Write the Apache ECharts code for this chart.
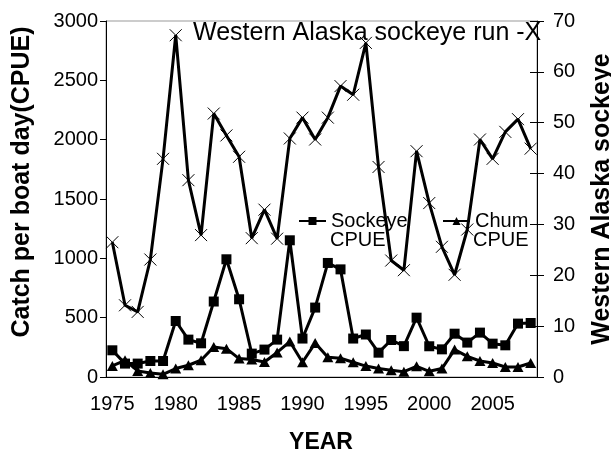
<!DOCTYPE html>
<html><head><meta charset="utf-8">
<script src="https://cdn.jsdelivr.net/npm/echarts@6/dist/echarts.min.js"></script>
<style>html,body{margin:0;padding:0;background:#fff}#c{width:611px;height:455px}</style>
</head><body><div id="c"></div>
<script>
const years = [];
for (let y = 1975; y <= 2008; y++) years.push(String(y));
const sockeyeCPUE = [225,113,113,135,135,472,315,284,636,992,655,197,231,315,1152,324,585,961,907,324,358,205,312,260,500,259,233,365,290,374,281,267,450,455];
const chumCPUE = [93,141,51,34,23,71,99,141,253,239,155,147,126,207,299,124,286,166,158,124,92,71,56,45,90,48,71,231,174,135,118,84,84,118];
const westernRun = [26.5,14.1,12.8,23.1,42.9,67.2,38.7,27.9,51.8,47.5,43.3,27.3,32.9,27.2,46.9,51.0,46.7,51.0,57.2,55.5,65.7,41.3,22.9,21.0,44.4,34.2,25.6,20.1,29.0,46.7,42.9,48.2,50.7,44.9];
const leftTicks = {min:0, max:3000, interval:500};
const rightTicks = {min:0, max:70, interval:10};

const FONT = "'Liberation Sans', Arial, sans-serif";
const chart = echarts.init(document.getElementById('c'), null, {renderer:'canvas'});
const xMark = 'path://M0 0L10 10M10 0L0 10';
chart.setOption({
  animation:false,
  backgroundColor:'#fff',
  grid:{left:106, right:74, top:21, bottom:78, show:true, borderColor:'#999', borderWidth:1},
  legend:[
    {data:['Sockeye CPUE'], left:293, top:206, itemWidth:27, itemHeight:10, itemGap:4,
     formatter:()=> 'Sockeye', textStyle:{fontFamily:FONT, fontSize:20, color:'#000'}},
    {data:['Chum CPUE'], left:437, top:206, itemWidth:27, itemHeight:10,
     formatter:()=> 'Chum', textStyle:{fontFamily:FONT, fontSize:20, color:'#000'}}
  ],
  xAxis:{type:'category', data:years, boundaryGap:true,
    axisLine:{lineStyle:{color:'#000', width:1}},
    axisTick:{interval:4, length:5, alignWithLabel:false, lineStyle:{color:'#000'}},
    axisLabel:{interval:4, margin:17, fontFamily:FONT, fontSize:20, color:'#000'},
    splitLine:{show:false}},
  yAxis:[
    {type:'value', position:'left', min:leftTicks.min, max:leftTicks.max, interval:leftTicks.interval,
     axisLine:{show:true, lineStyle:{color:'#000'}}, axisTick:{show:true, length:6, lineStyle:{color:'#000'}},
     axisLabel:{margin:8, fontFamily:FONT, fontSize:20, color:'#000', formatter:v=>String(v)}, splitLine:{show:false}},
    {type:'value', position:'right', min:rightTicks.min, max:rightTicks.max, interval:rightTicks.interval,
     axisLine:{show:true, lineStyle:{color:'#000'}}, axisTick:{show:true, length:7, lineStyle:{color:'#000'}},
     axisLabel:{margin:16, fontFamily:FONT, fontSize:20, color:'#000', formatter:v=>String(v)}, splitLine:{show:false}},
    {type:'value', position:'right', min:rightTicks.min, max:rightTicks.max, interval:rightTicks.interval,
     axisLine:{show:false}, axisTick:{show:true, inside:true, length:7, lineStyle:{color:'#000'}},
     axisLabel:{show:false}, splitLine:{show:false}}
  ],
  series:[
    {name:'Western Alaska sockeye run', type:'line', yAxisIndex:1, data:westernRun,
     lineStyle:{color:'#000', width:3}, symbol:xMark, symbolSize:12, showAllSymbol:true,
     itemStyle:{color:'none', borderColor:'#000', borderWidth:1}, z:2},
    {name:'Chum CPUE', type:'line', yAxisIndex:0, data:chumCPUE,
     lineStyle:{color:'#000', width:3}, symbol:'triangle', symbolSize:[11,10], showAllSymbol:true,
     itemStyle:{color:'#000'}, z:3},
    {name:'Sockeye CPUE', type:'line', yAxisIndex:0, data:sockeyeCPUE,
     lineStyle:{color:'#000', width:3}, symbol:'rect', symbolSize:10, showAllSymbol:true,
     itemStyle:{color:'#000'}, z:4}
  ],
  graphic:[
    {type:'text', left:193, top:21, style:{text:'Western Alaska sockeye run -X', fontFamily:FONT, fontSize:25, fill:'#000'}},
    {type:'text', left:330, top:230, style:{text:'CPUE', fontFamily:FONT, fontSize:20, fill:'#000'}},
    {type:'text', left:473, top:230, style:{text:'CPUE', fontFamily:FONT, fontSize:20, fill:'#000'}},
    {type:'text', x:321, y:443, style:{text:'YEAR', fontFamily:FONT, fontSize:23, fontWeight:'bold', fill:'#000', align:'center', verticalAlign:'middle'}},
    {type:'text', x:22, y:182, rotation:Math.PI/2, style:{text:'Catch per boat day(CPUE)', fontFamily:FONT, fontSize:25, fontWeight:'bold', fill:'#000', align:'center', verticalAlign:'middle'}},
    {type:'text', x:602, y:199, rotation:Math.PI/2, style:{text:'Western Alaska sockeye', fontFamily:FONT, fontSize:25, fontWeight:'bold', fill:'#000', align:'center', verticalAlign:'middle'}}
  ]
});
</script></body></html>
